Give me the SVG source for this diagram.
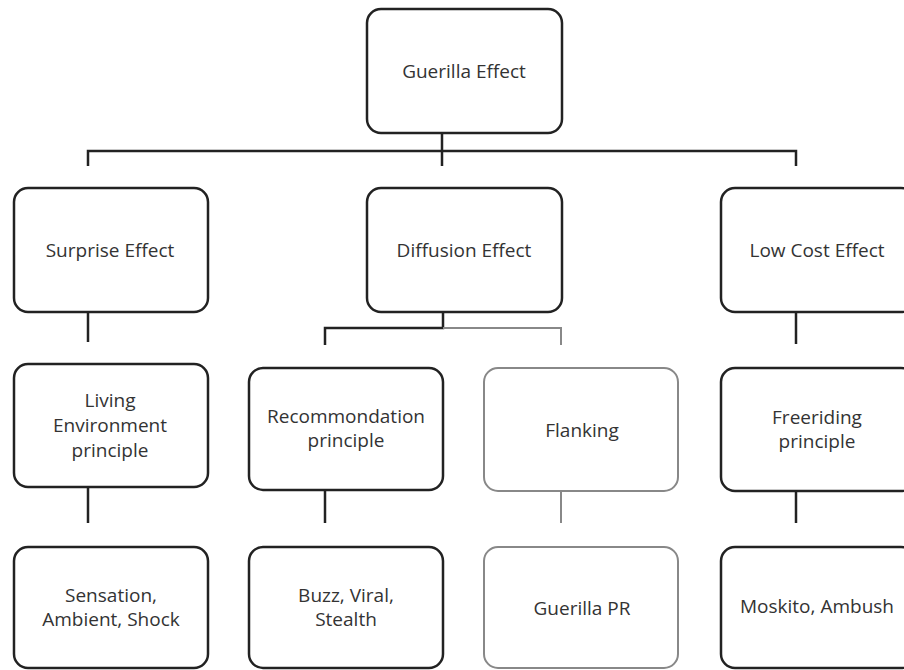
<svg xmlns="http://www.w3.org/2000/svg" width="904" height="670" viewBox="0 0 904 670">
<style>
.box{fill:#fff;stroke:#222;stroke-width:2.5}
.gbox{fill:#fff;stroke:#888;stroke-width:2}
.lbl{font-family:"Open Sans","Noto Sans","Liberation Sans",sans-serif;font-size:19px;fill:#333;text-anchor:middle;dominant-baseline:central}
.c{fill:none;stroke:#222;stroke-width:2.5}
.gc{fill:none;stroke:#888;stroke-width:2}
</style>
<rect width="904" height="670" fill="#fff"/>
<g id="connectors">
<path class="c" d="M442 133V151M88 166V151H796V166M442 151V166"/>
<path class="c" d="M88 312V342"/>
<path class="c" d="M443 312V328H325V345"/>
<path class="gc" d="M443 328H561V345"/>
<path class="c" d="M796 312V344"/>
<path class="c" d="M88 487V523"/>
<path class="c" d="M325 490V523"/>
<path class="gc" d="M561 491V523"/>
<path class="c" d="M796 491V523"/>
</g>
<g id="guerilla-effect"><rect class="box" x="367" y="9" width="195" height="124" rx="14"/><text class="lbl" x="464" y="71">Guerilla Effect</text></g>
<g id="surprise-effect"><rect class="box" x="14" y="188" width="194" height="124" rx="14"/><text class="lbl" x="110" y="250">Surprise Effect</text></g>
<g id="diffusion-effect"><rect class="box" x="367" y="188" width="195" height="124" rx="14"/><text class="lbl" x="464" y="250">Diffusion Effect</text></g>
<g id="low-cost-effect"><rect class="box" x="721" y="188" width="194" height="124" rx="14"/><text class="lbl" x="817" y="250">Low Cost Effect</text></g>
<g id="living-environment"><rect class="box" x="14" y="364" width="194" height="123" rx="14"/><text class="lbl" x="110" y="400">Living</text><text class="lbl" x="110" y="425">Environment</text><text class="lbl" x="110" y="450">principle</text></g>
<g id="recommendation"><rect class="box" x="249" y="368" width="194" height="122" rx="14"/><text class="lbl" x="346" y="416">Recommondation</text><text class="lbl" x="346" y="440">principle</text></g>
<g id="flanking"><rect class="gbox" x="484" y="368" width="194" height="123" rx="14"/><text class="lbl" x="582" y="430">Flanking</text></g>
<g id="freeriding"><rect class="box" x="721" y="368" width="194" height="123" rx="14"/><text class="lbl" x="817" y="417">Freeriding</text><text class="lbl" x="817" y="441">principle</text></g>
<g id="sensation"><rect class="box" x="14" y="547" width="194" height="121" rx="14"/><text class="lbl" x="111" y="595">Sensation,</text><text class="lbl" x="111" y="619">Ambient, Shock</text></g>
<g id="buzz"><rect class="box" x="249" y="547" width="194" height="121" rx="14"/><text class="lbl" x="346" y="595">Buzz, Viral,</text><text class="lbl" x="346" y="619">Stealth</text></g>
<g id="guerilla-pr"><rect class="gbox" x="484" y="547" width="194" height="121" rx="14"/><text class="lbl" x="582" y="608">Guerilla PR</text></g>
<g id="moskito"><rect class="box" x="721" y="547" width="194" height="121" rx="14"/><text class="lbl" x="817" y="606">Moskito, Ambush</text></g>
</svg>
